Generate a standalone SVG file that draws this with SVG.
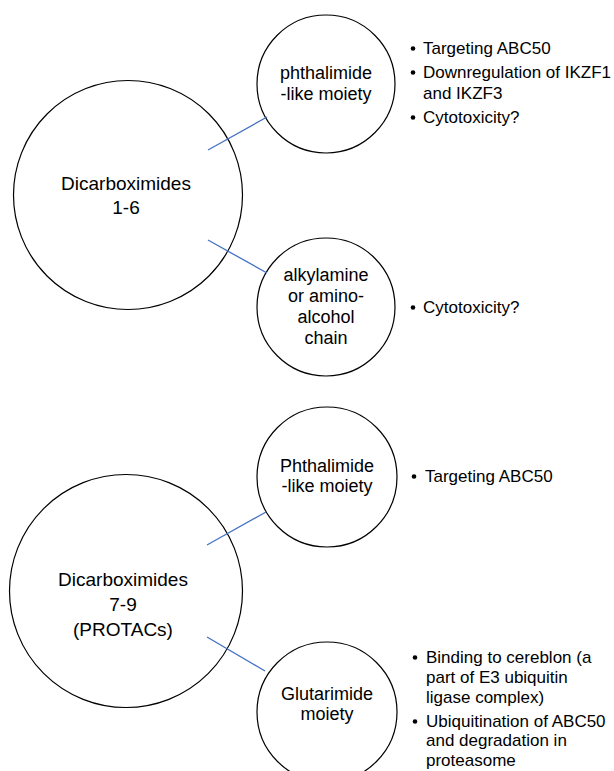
<svg xmlns="http://www.w3.org/2000/svg" width="614" height="771" viewBox="0 0 614 771">
<style>
.node{fill:#fff;stroke:#000;stroke-width:1.2}
.big{font-family:"Liberation Sans",Arial,sans-serif;font-size:19px;fill:#000;text-anchor:middle}
.sm{font-family:"Liberation Sans",Arial,sans-serif;font-size:18px;fill:#000;text-anchor:middle}
.bl{font-family:"Liberation Sans",Arial,sans-serif;font-size:17px;fill:#000}
.dot{fill:#000}
.conn{stroke:#4472C4;stroke-width:1.3;fill:none}
</style>
<rect width="614" height="771" fill="#fff"/>
<g id="n-dicarb16">
<circle class="node" cx="128" cy="195" r="114.5"/>
<text class="big" x="126" y="190">Dicarboximides</text>
<text class="big" x="126" y="214">1-6</text>
</g>
<g id="n-phthal1">
<circle class="node" cx="326" cy="84" r="69"/>
<text class="sm" x="326" y="79">phthalimide</text>
<text class="sm" x="326" y="100">-like moiety</text>
</g>
<g id="n-alkyl">
<circle class="node" cx="326" cy="307" r="69"/>
<text class="sm" x="326" y="281">alkylamine</text>
<text class="sm" x="326" y="302">or amino-</text>
<text class="sm" x="326" y="323">alcohol</text>
<text class="sm" x="326" y="344">chain</text>
</g>
<g id="n-dicarb79">
<circle class="node" cx="126" cy="591" r="116.5"/>
<text class="big" x="123" y="586">Dicarboximides</text>
<text class="big" x="123" y="611">7-9</text>
<text class="big" x="123" y="636">(PROTACs)</text>
</g>
<g id="n-phthal2">
<circle class="node" cx="327" cy="477" r="70"/>
<text class="sm" x="327" y="472">Phthalimide</text>
<text class="sm" x="327" y="492">-like moiety</text>
</g>
<g id="n-glut">
<circle class="node" cx="327" cy="712" r="70"/>
<text class="sm" x="327" y="700">Glutarimide</text>
<text class="sm" x="327" y="720">moiety</text>
</g>
<g id="connectors">
<line class="conn" x1="208" y1="150" x2="267" y2="117"/>
<line class="conn" x1="208" y1="240" x2="267" y2="273"/>
<line class="conn" x1="207" y1="545" x2="266" y2="512"/>
<line class="conn" x1="207" y1="637" x2="265" y2="671"/>
</g>
<g id="b-phthal1">
<circle class="dot" cx="413" cy="48.5" r="2.3"/>
<text class="bl" x="423" y="54">Targeting ABC50</text>
<circle class="dot" cx="413" cy="72.5" r="2.3"/>
<text class="bl" x="423" y="78">Downregulation of IKZF1</text>
<text class="bl" x="423" y="99">and IKZF3</text>
<circle class="dot" cx="413" cy="117.5" r="2.3"/>
<text class="bl" x="423" y="123">Cytotoxicity?</text>
</g>
<g id="b-alkyl">
<circle class="dot" cx="413" cy="307.5" r="2.3"/>
<text class="bl" x="423" y="313">Cytotoxicity?</text>
</g>
<g id="b-phthal2">
<circle class="dot" cx="414" cy="476.5" r="2.3"/>
<text class="bl" x="425" y="482">Targeting ABC50</text>
</g>
<g id="b-glut">
<circle class="dot" cx="415" cy="657.5" r="2.3"/>
<text class="bl" x="426" y="663">Binding to cereblon (a</text>
<text class="bl" x="426" y="683">part of E3 ubiquitin</text>
<text class="bl" x="426" y="703">ligase complex)</text>
<circle class="dot" cx="415" cy="721.5" r="2.3"/>
<text class="bl" x="426" y="727">Ubiquitination of ABC50</text>
<text class="bl" x="426" y="746">and degradation in</text>
<text class="bl" x="426" y="766">proteasome</text>
</g>
</svg>
